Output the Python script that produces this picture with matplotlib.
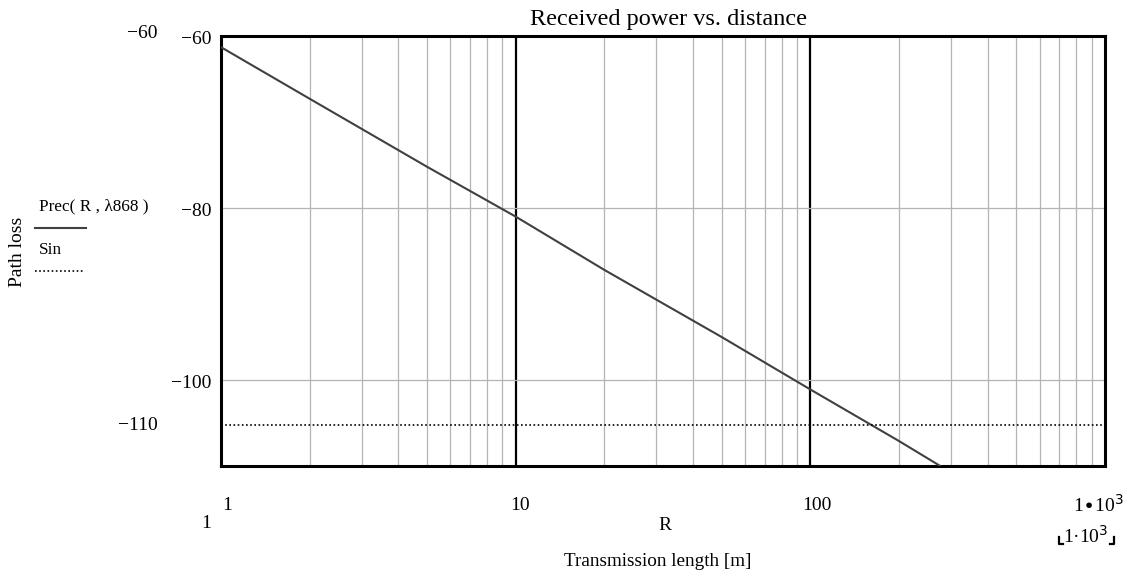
import numpy as np
import matplotlib.pyplot as plt

# values (R in m, received power in dB)
R = [1, 2, 5, 10, 20, 50, 100, 200, 276]
Prec = [-61.3, -67.3, -75.2, -81.0, -87.2, -95.0, -101.1, -107.1, -110.0]
Sin = -105.2
ytick_vals = [-60, -80, -100]

plt.rcParams['font.family'] = ['Liberation Serif', 'DejaVu Serif']

W, H = 1124, 572
fig = plt.figure(figsize=(W / 100, H / 100), dpi=100)


def px(x, y):
    # figure pixel (from top-left) -> figure fraction
    return x / W, 1 - y / H


ax = fig.add_axes([221 / W, 1 - 466 / H, (1105 - 221) / W, (466 - 36) / H])
ax.set_xscale('log')
ax.set_xlim(1, 1000)
ax.set_ylim(-110, -60)

# grid: thin gray for minor decades, black at decades
for dec in [1, 10, 100]:
    for m in range(2, 10):
        ax.axvline(dec * m, color='#b4b4b4', lw=0.9, zorder=1)
for d in [10, 100]:
    ax.axvline(d, color='black', lw=1.6, zorder=1)
for yv in [-80, -100]:
    ax.axhline(yv, color='#b4b4b4', lw=0.9, zorder=1)

ax.plot(R, Prec, color='#404040', lw=1.5, zorder=3)
ax.axhline(Sin, color='black', lw=1.2, ls=(0, (1, 1.5)), zorder=3)

for s in ax.spines.values():
    s.set_linewidth(2.2)
ax.set_xticks([])
ax.set_yticks([])
ax.minorticks_off()

fs = 14
# y tick labels
for yv in ytick_vals:
    yp = 40 + (-60 - yv) * 8.6
    fig.text(*px(211, yp), '\u2212' + str(-yv), ha='right', va='center', fontsize=fs)
fig.text(*px(158, 33), '\u221260', ha='right', va='center', fontsize=fs)
fig.text(*px(158, 425), '\u2212110', ha='right', va='center', fontsize=fs)

# x tick labels
fig.text(*px(222, 505), '1', ha='left', va='center', fontsize=fs)
fig.text(*px(520, 506), '10', ha='center', va='center', fontsize=fs)
fig.text(*px(817, 506), '100', ha='center', va='center', fontsize=fs)
fig.text(*px(1124, 505), r'1$\bullet$10$^3$', ha='right', va='center', fontsize=fs)
fig.text(*px(201, 523), '1', ha='left', va='center', fontsize=fs)
fig.text(*px(1108, 536), '1\u00b710$^3$', ha='right', va='center', fontsize=fs)
# corner brackets around the lower limit
for xs, ys in [([1059, 1059, 1063], [537, 544, 544]),
               ([1110, 1114, 1114], [544, 544, 537])]:
    fig.add_artist(plt.Line2D([x / W for x in xs], [1 - y / H for y in ys],
                              color='black', lw=1.6))
fig.text(*px(665, 526), 'R', ha='center', va='center', fontsize=fs)
fig.text(*px(658, 561), 'Transmission length [m]', ha='center', va='center', fontsize=13.8)

fig.text(*px(668, 20), 'Received power vs. distance', ha='center', va='center', fontsize=17.5)

# legend-like labels on the left
fig.text(*px(17, 252), 'Path loss', ha='center', va='center', rotation=90, fontsize=14)
fig.text(*px(39, 206), 'Prec( R , \u03bb868 )', ha='left', va='center', fontsize=12.4)
fig.add_artist(plt.Line2D([35 / W, 86 / W], [1 - 228 / H] * 2, color='#404040', lw=1.5))
fig.text(*px(39, 250), 'Sin', ha='left', va='center', fontsize=12.4)
fig.add_artist(plt.Line2D([35 / W, 84 / W], [1 - 271 / H] * 2, color='black', lw=1.2, ls=(0, (1, 1.5))))

fig.savefig('out.png', dpi=100)
